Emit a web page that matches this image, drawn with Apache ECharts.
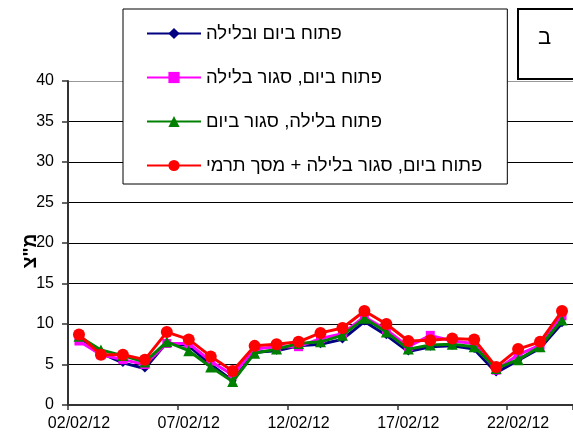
<!DOCTYPE html>
<html>
<head>
<meta charset="utf-8">
<script src="https://cdn.jsdelivr.net/npm/echarts@6/dist/echarts.min.js"></script>
<style>
html,body{margin:0;padding:0;background:#fff;}
#c{width:573px;height:432px;}
</style>
</head>
<body>
<div id="c"></div>
<script>
const dates = ['02/02/12','03/02/12','04/02/12','05/02/12','06/02/12','07/02/12','08/02/12','09/02/12','10/02/12','11/02/12','12/02/12','13/02/12','14/02/12','15/02/12','16/02/12','17/02/12','18/02/12','19/02/12','20/02/12','21/02/12','22/02/12','23/02/12','24/02/12'];
const seriesNames = ['פתוח ביום ובלילה','פתוח ביום, סגור בלילה','פתוח בלילה, סגור ביום','פתוח ביום, סגור בלילה + מסך תרמי'];
const openBoth =      [8.4, 6.4, 5.2, 4.5, 7.7, 7.3, 5.0, 3.0, 6.5, 6.7, 7.3, 7.5, 8.1, 10.3, 8.6, 6.6, 7.2, 7.3, 6.9, 4.0, 5.5, 7.0, 10.1];
const openDayClosedNight = [7.9, 6.2, 5.6, 5.0, 7.6, 7.6, 5.4, 3.7, 6.9, 7.2, 7.2, 8.2, 8.8, 10.9, 9.3, 7.2, 8.6, 7.9, 7.6, 4.3, 6.2, 7.4, 11.0];
const openNightClosedDay = [8.5, 6.8, 6.1, 5.3, 7.8, 6.7, 4.7, 2.9, 6.4, 6.9, 7.6, 7.8, 8.6, 10.7, 9.0, 6.9, 7.4, 7.5, 7.2, 4.5, 5.6, 7.2, 10.5];
const withScreen =    [8.7, 6.2, 6.2, 5.6, 9.0, 8.1, 6.0, 4.2, 7.3, 7.5, 7.8, 8.9, 9.5, 11.6, 10.0, 7.9, 8.0, 8.2, 8.1, 4.7, 6.9, 7.8, 11.6];
const yTicks = [0,5,10,15,20,25,30,35,40];
const yName = 'מ"צ';
const boxLabel = 'ב';

const font = '"Liberation Sans", Arial, "DejaVu Sans", sans-serif';

const chart = echarts.init(document.getElementById('c'), null, {renderer:'canvas'});
const styles = [
  {color:'#000080', symbol:'diamond', size:8},
  {color:'#FF00FF', symbol:'rect', size:9},
  {color:'#008000', symbol:'triangle', size:11},
  {color:'#FF0000', symbol:'circle', size:12}
];
const allData = [openBoth, openDayClosedNight, openNightClosedDay, withScreen];

chart.setOption({
  animation:false,
  backgroundColor:'#fff',
  grid:{left:68, top:81, width:508, height:324, containLabel:false},
  xAxis:{
    type:'category', data:dates, boundaryGap:true,
    axisLine:{show:true, lineStyle:{color:'#333', width:2}},
    axisTick:{show:true, interval:4, alignWithLabel:false, length:5, lineStyle:{color:'#333', width:1.5}},
    splitLine:{show:false},
    axisLabel:{color:'#000', fontSize:16, fontFamily:font, margin:11, interval:4}
  },
  yAxis:{
    type:'value', min:yTicks[0], max:yTicks[yTicks.length-1], interval:5,
    name:yName, nameLocation:'middle', nameRotate:90, nameGap:28, nameMoveOverlap:false,
    nameTextStyle:{color:'#000', fontSize:19, fontWeight:'bold', fontFamily:font, padding:[0,16,0,0]},
    axisLine:{show:true, lineStyle:{color:'#333', width:2}},
    axisTick:{show:true, length:6, lineStyle:{color:'#333', width:1.5}},
    splitLine:{show:true, lineStyle:{color:['#000','#000','#000','#000','#000','#000','#000','#000','#999'], width:1}},
    axisLabel:{color:'#000', fontSize:16, fontFamily:font, margin:14}
  },
  legend:{
    orient:'vertical', left:123, top:9,
    backgroundColor:'#fff', borderColor:'#000', borderWidth:1,
    padding:[15,25,9,23], itemGap:25, itemWidth:54, itemHeight:14,
    textStyle:{color:'#000', fontSize:18.5, fontFamily:font},
    data:seriesNames
  },
  graphic:[
    {type:'rect', left:517, top:8, shape:{width:70, height:70}, style:{fill:'#fff', stroke:'#000', lineWidth:2}, z:100},
    {type:'text', left:538, top:27, style:{text:boxLabel, fill:'#000', font:'22px '+font}, z:101}
  ],
  series: allData.map((d,k)=>({
    name:seriesNames[k], type:'line', data:d,
    symbol:styles[k].symbol, symbolSize:styles[k].size,
    itemStyle:{color:styles[k].color},
    lineStyle:{color:styles[k].color, width:3},
    z:2+k
  }))
});
</script>
</body>
</html>
